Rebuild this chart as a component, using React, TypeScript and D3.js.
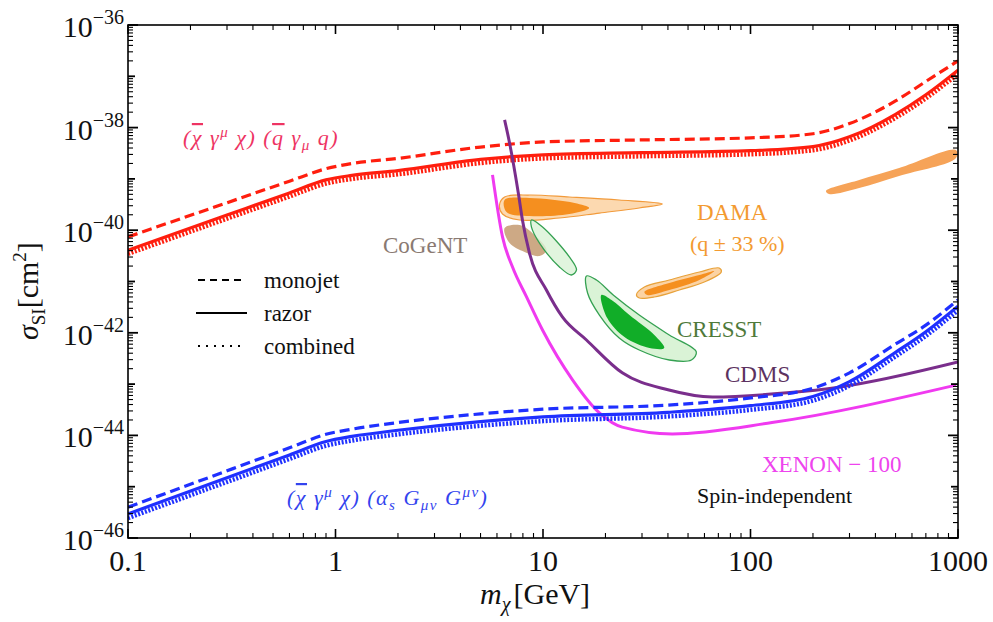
import React from 'react';
import * as d3 from 'd3';

type P = [number, number];

// ---- collider limits: (χ̄γ^μχ)(q̄γ_μq) operator ----
const vectorMonojet: P[] = [
  [0.1, 7.41e-41], [0.3, 3.43e-40], [0.6, 9.02e-40], [0.9, 1.58e-39], [1.2, 2.0e-39],
  [2, 2.51e-39], [5, 4.17e-39], [10, 5.25e-39], [30, 5.75e-39], [100, 6.31e-39],
  [200, 7.59e-39], [300, 1.2e-38], [500, 3.31e-38], [700, 7.94e-38], [1000, 2.0e-37],
];
const vectorRazor: P[] = [
  [0.1, 4.07e-41], [0.3, 1.97e-40], [0.6, 5.33e-40], [0.9, 9.55e-40], [1.2, 1.17e-39],
  [2, 1.45e-39], [5, 2.4e-39], [10, 2.95e-39], [30, 3.24e-39], [100, 3.55e-39],
  [200, 4.27e-39], [300, 6.61e-39], [500, 1.82e-38], [700, 4.37e-38], [1000, 1.32e-37],
];
const vectorCombined: P[] = [
  [0.1, 3.46e-41], [0.3, 1.68e-40], [0.6, 4.54e-40], [0.9, 8.13e-40], [1.2, 1.0e-39],
  [2, 1.23e-39], [5, 2.04e-39], [10, 2.51e-39], [30, 2.76e-39], [100, 3.02e-39],
  [200, 3.63e-39], [300, 5.62e-39], [500, 1.55e-38], [700, 3.72e-38], [1000, 1.12e-37],
];

// ---- collider limits: (χ̄γ^μχ)(α_s G_μν G^μν) operator ----
const gluonMonojet: P[] = [
  [0.1, 3.98e-46], [0.3, 2.04e-45], [0.6, 5.73e-45], [0.9, 1.05e-44], [1.2, 1.32e-44],
  [2, 1.78e-44], [5, 2.63e-44], [10, 3.24e-44], [40, 3.89e-44], [100, 5.37e-44],
  [200, 8.32e-44], [300, 1.66e-43], [500, 6.03e-43], [700, 1.41e-42], [1000, 4.37e-42],
];
const gluonRazor: P[] = [
  [0.1, 2.95e-46], [0.3, 1.5e-45], [0.6, 4.17e-45], [0.9, 7.59e-45], [1.2, 9.55e-45],
  [2, 1.26e-44], [5, 1.86e-44], [10, 2.29e-44], [40, 2.82e-44], [100, 3.8e-44],
  [200, 5.75e-44], [300, 1.12e-43], [500, 4.17e-43], [700, 1.05e-42], [1000, 3.31e-42],
];
const gluonCombined: P[] = [
  [0.1, 2.45e-46], [0.3, 1.24e-45], [0.6, 3.47e-45], [0.9, 6.3e-45], [1.2, 7.93e-45],
  [2, 1.05e-44], [5, 1.54e-44], [10, 1.9e-44], [40, 2.34e-44], [100, 3.15e-44],
  [200, 4.77e-44], [300, 9.3e-44], [500, 3.46e-43], [700, 8.72e-43], [1000, 2.75e-42],
];

// ---- direct detection exclusion curves ----
const cdms: P[] = [
  [6.53, 1.41e-38], [6.9, 5.01e-39], [7.6, 5.37e-40], [7.96, 1.58e-40], [8.6, 3.63e-41],
  [10.4, 6.76e-42], [12.4, 2.04e-42], [16.2, 7.24e-43], [24.1, 1.66e-43], [40, 7.76e-44],
  [65.5, 5.62e-44], [150, 6.76e-44], [267, 8.71e-44], [1000, 2.69e-43],
];
const xenon100: P[] = [
  [5.71, 1.2e-39], [6.38, 7.41e-41], [7.13, 1.91e-41], [8.33, 5.01e-42], [9.96, 1.12e-42],
  [13.9, 1.2e-43], [18.7, 2.75e-44], [24.1, 1.45e-44], [42, 1.07e-44], [127, 1.78e-44],
  [977, 9.55e-44],
];

// ---- signal regions ----
const damaLowOuter: P[] = [
  [6.17, 3.1e-40], [6.53, 4.44e-40], [8.61, 4.85e-40], [13.4, 4.44e-40], [23.3, 3.88e-40],
  [37.6, 3.24e-40], [29.1, 2.71e-40], [18.7, 2.16e-40], [12.0, 1.73e-40], [7.71, 1.58e-40],
  [6.38, 2.07e-40],
];
const damaLowCore: P[] = [
  [6.53, 3.88e-40], [8.61, 4.24e-40], [14.2, 3.39e-40], [16.7, 2.71e-40], [13.4, 2.07e-40],
  [8.61, 1.89e-40], [6.67, 2.26e-40],
];
const damaHighOuter: P[] = [
  [28.2, 5.46e-42], [30.8, 7.81e-42], [40.6, 1.07e-41], [56.7, 1.53e-41], [70.7, 1.83e-41],
  [72.3, 1.53e-41], [59.9, 9.77e-42], [45.4, 6.82e-42], [34.4, 4.99e-42], [29.1, 4.77e-42],
];
const damaHighCore: P[] = [
  [30.8, 6.24e-42], [40.6, 9.35e-42], [56.7, 1.34e-41], [66.9, 1.6e-41], [56.7, 1.07e-41],
  [40.6, 6.82e-42], [31.8, 5.46e-42],
];
const damaHeavy: P[] = [
  [231, 5.81e-40], [334, 9.53e-40], [520, 1.63e-39], [978, 3.66e-39], [978, 2.55e-39],
  [520, 1.14e-39], [334, 6.65e-40], [239, 5.08e-40],
];
const cogent: P[] = [
  [6.53, 1.1e-40], [7.71, 1.26e-40], [9.1, 8.05e-41], [10.4, 4.11e-41], [9.62, 3.14e-41],
  [8.15, 3.76e-41], [6.9, 5.62e-41],
];
const cresstLow: P[] = [
  [8.8, 1.58e-40], [9.95, 1.15e-40], [13.4, 3.01e-41], [14.5, 1.68e-41], [13.7, 1.34e-41],
  [12.0, 1.92e-41], [9.62, 5.62e-41], [8.8, 1.15e-40],
];
const cresstHighOuter: P[] = [
  [16.2, 1.28e-41], [18.1, 1.07e-41], [22.1, 5.21e-42], [29.1, 2.22e-42], [40.6, 9.06e-43],
  [54.8, 4.23e-43], [51.9, 2.95e-43], [40.6, 2.95e-43], [29.1, 4.62e-43], [23.3, 7.92e-43],
  [18.7, 2.22e-42], [16.4, 5.97e-42],
];
const cresstHighCore: P[] = [
  [19.1, 5.46e-42], [21.4, 4.36e-42], [26.1, 2.22e-42], [34.4, 9.06e-43], [38.4, 5.06e-43],
  [32.6, 5.06e-43], [24.7, 8.28e-43], [20.4, 1.94e-42],
];

// ---- axes ----
const xTicks = [0.1, 1, 10, 100, 1000];
const xTickLabels = ['0.1', '1', '10', '100', '1000'];
const yLabelExps = [-36, -38, -40, -42, -44, -46];
const legendItems = ['monojet', 'razor', 'combined'];

const W = 993;
const H = 622;
const L = 128, R = 958, T = 25, B = 538;
const SERIF = '"Liberation Serif", "Times New Roman", serif';

// bar-over symbol for the conjugate fields
const Bar = ({ c }: { c: string }) => <tspan textDecoration="overline">{c}</tspan>;

export default function App() {
  const x = d3.scaleLog().domain([0.1, 1000]).range([L, R]);
  const y = d3.scaleLog().domain([1e-46, 1e-36]).range([B, T]);
  const line = d3.line<P>().x(d => x(d[0])).y(d => y(d[1])).curve(d3.curveMonotoneX);
  const blob = d3.line<P>().x(d => x(d[0])).y(d => y(d[1])).curve(d3.curveCatmullRomClosed.alpha(0.5));

  const xMinor: { v: number; major: boolean }[] = [];
  for (let n = -1; n <= 2; n++) for (let k = 1; k <= 9; k++) xMinor.push({ v: k * 10 ** n, major: k === 1 });
  xMinor.push({ v: 1000, major: true });
  const yMinor: { v: number; kind: number }[] = [];
  for (let n = -46; n <= -37; n++)
    for (let k = 1; k <= 9; k++) yMinor.push({ v: k * 10 ** n, kind: k === 1 ? (n % 2 === 0 ? 2 : 1) : 0 });
  yMinor.push({ v: 1e-36, kind: 2 });

  const red = '#ff1e0e';
  const blue = '#1f30ff';

  return (
    <svg width={W} height={H} style={{ position: 'absolute', left: 0, top: 0, background: '#fff' }} fontFamily={SERIF}>
      <defs>
        <clipPath id="plot">
          <rect x={L} y={T} width={R - L} height={B - T} />
        </clipPath>
      </defs>
      <rect width={W} height={H} fill="#fff" />

      <g clipPath="url(#plot)">
        {/* DAMA */}
        <path d={blob(damaLowOuter)!} fill="#fcd9b0" stroke="#f29a3a" strokeWidth={1.2} />
        <path d={blob(damaLowCore)!} fill="#f58f1f" />
        <path d={blob(damaHighOuter)!} fill="#fbd3a4" stroke="#e8a23a" strokeWidth={1.2} />
        <path d={blob(damaHighCore)!} fill="#f58f1f" />
        <path d={blob(damaHeavy)!} fill="#f6a358" />
        {/* CoGeNT */}
        <path d={blob(cogent)!} fill="#c09467" opacity={0.8} />
        {/* CRESST */}
        <path d={blob(cresstLow)!} fill="#daf3d6" fillOpacity={0.8} stroke="#35a152" strokeWidth={1.3} />
        <path d={blob(cresstHighOuter)!} fill="#daf3d6" stroke="#35a152" strokeWidth={1.3} />
        <path d={blob(cresstHighCore)!} fill="#11ad28" />

        {/* vector operator */}
        <path d={line(vectorMonojet)!} fill="none" stroke={red} strokeWidth={3.2} strokeDasharray="10 5" />
        <path d={line(vectorCombined)!} fill="none" stroke={red} strokeWidth={4.5} strokeDasharray="2 1.6" />
        <path d={line(vectorRazor)!} fill="none" stroke={red} strokeWidth={3.2} />

        {/* direct detection */}
        <path d={line(xenon100)!} fill="none" stroke="#f03af0" strokeWidth={3} />
        <path d={line(cdms)!} fill="none" stroke="#7a2e8c" strokeWidth={3} />

        {/* gluon operator */}
        <path d={line(gluonMonojet)!} fill="none" stroke={blue} strokeWidth={3.2} strokeDasharray="10 5" />
        <path d={line(gluonCombined)!} fill="none" stroke={blue} strokeWidth={4.5} strokeDasharray="2 1.6" />
        <path d={line(gluonRazor)!} fill="none" stroke={blue} strokeWidth={3.2} />
      </g>

      {/* frame and ticks */}
      <rect x={L} y={T} width={R - L} height={B - T} fill="none" stroke="#000" strokeWidth={1.6} />
      {xMinor.map((t, i) => {
        const px = x(t.v);
        const len = t.major ? 9 : 5;
        return (
          <g key={'xt' + i} stroke="#000" strokeWidth={t.major ? 1.6 : 1.1}>
            <line x1={px} x2={px} y1={B} y2={B - len} />
            <line x1={px} x2={px} y1={T} y2={T + len} />
          </g>
        );
      })}
      {yMinor.map((t, i) => {
        const py = y(t.v);
        const len = t.kind === 2 ? 10 : t.kind === 1 ? 7 : 5;
        return (
          <g key={'yt' + i} stroke="#000" strokeWidth={t.kind ? 1.8 : 1.1}>
            <line x1={L} x2={L + len} y1={py} y2={py} />
            <line x1={R} x2={R - len} y1={py} y2={py} />
          </g>
        );
      })}
      {xTicks.map((v, i) => (
        <text key={'xl' + i} x={x(v)} y={571} fontSize={30} textAnchor="middle" fill="#111">
          {xTickLabels[i]}
        </text>
      ))}
      {yLabelExps.map(e => (
        <text key={'yl' + e} x={124} y={y(10 ** e) + 12} fontSize={30} textAnchor="end" fill="#111">
          10
          <tspan fontSize={20} dy={-13}>{'\u2212' + Math.abs(e)}</tspan>
        </text>
      ))}

      {/* axis titles */}
      <text x={480} y={604} fontSize={30} fill="#111">
        <tspan fontStyle="italic">m</tspan>
        <tspan fontStyle="italic" fontSize={20} dy={7}>χ</tspan>
        <tspan dy={-7} dx={3}>[GeV]</tspan>
      </text>
      <text transform="translate(38,340) rotate(-90)" fontSize={30} fill="#111">
        <tspan fontStyle="italic">σ</tspan>
        <tspan fontSize={19} dy={7}>SI</tspan>
        <tspan dy={-7}>[cm</tspan>
        <tspan fontSize={19} dy={-12}>2</tspan>
        <tspan dy={12}>]</tspan>
      </text>

      {/* legend */}
      {legendItems.map((name, i) => {
        const ly = 282 + i * 33;
        const dash = i === 0 ? '7 5' : i === 2 ? '2 6' : undefined;
        return (
          <g key={name}>
            <line x1={i === 1 ? 196 : 198} x2={i === 1 ? 247 : 244} y1={ly - 2} y2={ly - 2} stroke="#000" strokeWidth={2} strokeDasharray={dash} />
            <text x={264} y={ly + 6} fontSize={23} fill="#111">{name}</text>
          </g>
        );
      })}

      {/* operator labels */}
      <text x={183} y={145} fontSize={22} fill="#ee3463" fontStyle="italic" letterSpacing={1.5}>
        (<Bar c="χ" /> γ<tspan fontSize={15} dy={-8}>μ</tspan><tspan dy={8}> χ) (</tspan><Bar c="q" /> γ
        <tspan fontSize={15} dy={5}>μ</tspan><tspan dy={-5}> q)</tspan>
      </text>
      <text x={287} y={505} fontSize={22} fill="#3344ee" fontStyle="italic" letterSpacing={1.5}>
        (<Bar c="χ" /> γ<tspan fontSize={15} dy={-8}>μ</tspan><tspan dy={8}> χ) (α</tspan>
        <tspan fontSize={15} dy={5}>s</tspan><tspan dy={-5}> G</tspan>
        <tspan fontSize={15} dy={5}>μν</tspan><tspan dy={-5}> G</tspan>
        <tspan fontSize={15} dy={-8}>μν</tspan><tspan dy={8}>)</tspan>
      </text>

      {/* experiment labels */}
      <text x={383} y={253} fontSize={23} fill="#8a7a72">CoGeNT</text>
      <text x={697} y={220} fontSize={23} fill="#f39a30">DAMA</text>
      <text x={690} y={251} fontSize={22} fill="#f39a30">(q ± 33 %)</text>
      <text x={677} y={337} fontSize={23} fill="#4f7a3a">CRESST</text>
      <text x={725} y={382} fontSize={23} fill="#5c3260">CDMS</text>
      <text x={762} y={472} fontSize={23} fill="#ee44ee">XENON − 100</text>
      <text x={697} y={503} fontSize={22} fill="#111">Spin-independent</text>
    </svg>
  );
}
